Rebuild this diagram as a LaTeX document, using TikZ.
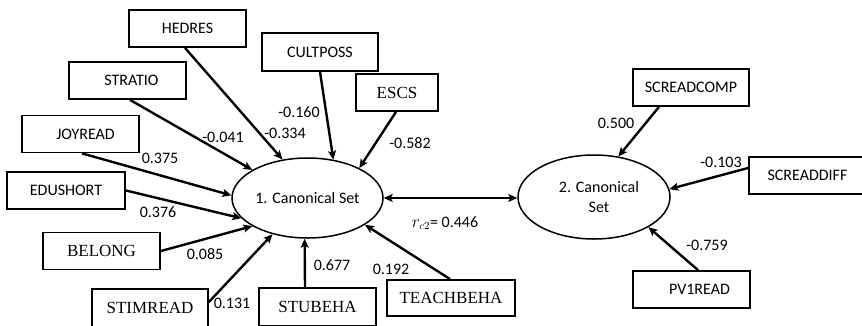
\documentclass[tikz,border=0pt]{standalone}
\usepackage{fontspec}
\newfontfamily\sansf{Carlito}
\newfontfamily\serf{Liberation Serif}
\usetikzlibrary{arrows.meta,shapes.geometric}
\begin{document}
\begin{tikzpicture}[x=1pt,y=-1pt,
 box/.style={draw, line width=1.8pt, inner sep=0pt, minimum height=37pt, font=\sansf\fontsize{16}{18}\selectfont},
 sbox/.style={box, font=\serf\fontsize{17}{19}\selectfont},
 ell/.style={draw, ellipse, line width=1.5pt, inner sep=0pt, align=center, font=\sansf\fontsize{16}{20}\selectfont},
 tip/.style={},
 arr/.style={line width=2.4pt, -{Stealth[length=9pt,width=8pt,inset=2pt]}},
 darr/.style={line width=2.4pt, {Stealth[length=9pt,width=8pt,inset=2pt]}-{Stealth[length=9pt,width=8pt,inset=2pt]}},
 lab/.style={font=\sansf\fontsize{16}{18}\selectfont, inner sep=0pt}]
\useasboundingbox (0,0) rectangle (862,325);
% boxes
\node[box, minimum width=117pt] (hedres) at (187.5,28.5) {HEDRES};
\node[box, minimum width=117pt] (stratio) at (127.5,80.5) {\hspace*{8pt}STRATIO};
\node[box, minimum width=117pt] (joyread) at (80.5,134) {\hspace*{10pt}JOYREAD};
\node[box, minimum width=118pt] (edushort) at (66,190.5) {EDUSHORT};
\node[sbox, minimum width=117pt] (belong) at (101.5,251) {BELONG};
\node[sbox, minimum width=116pt, minimum height=38pt] (stimread) at (150,308) {STIMREAD};
\node[sbox, minimum width=117pt, minimum height=38pt] (stubeha) at (317.5,307) {STUBEHA};
\node[sbox, minimum width=128pt, minimum height=36pt] (teachbeha) at (451,298) {TEACHBEHA};
\node[box, minimum width=116pt, minimum height=38pt] (cultposs) at (320,52) {CULTPOSS};
\node[sbox, minimum width=82pt] (escs) at (397,92.5) {ESCS};
\node[box, minimum width=116pt] (screadcomp) at (691,87.5) {SCREADCOMP};
\node[box, minimum width=117pt] (screaddiff) at (807.5,175.5) {SCREADDIFF};
\node[box, minimum width=117pt] (pv1read) at (691.5,289.5) {\hspace*{16pt}PV1READ};
% ellipses
\node[ell, minimum width=151pt, minimum height=80pt] (e1) at (307.5,198) {1. Canonical Set};
\node[ell, minimum width=152pt, minimum height=84pt] (e2) at (594,197) {\hspace*{10pt}2. Canonical\\\hspace*{10pt}Set};
% arrows to set 1
\draw[arr] ([xshift=-2.5pt]hedres.south) -- (e1.123.9);
\draw[arr] ([xshift=2.5pt]stratio.south) -- (e1.153.2);
\draw[arr] ([xshift=1.5pt]joyread.south) -- (e1.178.5);
\draw[arr] (edushort.east) -- (e1.197);
\draw[arr] (belong.east) -- (e1.207.6);
\draw[arr] ([yshift=6pt]stimread.east) -- (e1.226.9);
\draw[arr] ([xshift=-12.5pt]stubeha.north) -- (e1.266.4);
\draw[arr] ([xshift=-1pt]teachbeha.north) -- (e1.335.6);
\draw[arr] (cultposs.south) -- (e1.56.8);
\draw[arr] ([xshift=-1pt]escs.south) -- (e1.30.6);
% arrows to set 2
\draw[arr] ([xshift=-32pt]screadcomp.south) -- (e2.59);
\draw[arr] ([yshift=7.5pt]screaddiff.west) -- (e2.6.6);
\draw[arr] ([xshift=6.5pt]pv1read.north) -- (e2.-29.5);
% correlation
\draw[darr] (e1.east) -- (e1.east -| e2.west);
% labels
\node[lab] (l1) at (223,137) {-0.041};
\node[lab] (l2) at (285,133) {-0.334};
\node[lab] (l3) at (299,112) {-0.160};
\node[lab] (l4) at (410,143) {-0.582};
\node[lab] (l5) at (160,158) {0.375};
\node[lab] (l6) at (158,212) {0.376};
\node[lab] (l7) at (205,254) {0.085};
\node[lab] (l8) at (232,303) {0.131};
\node[lab] (l9) at (332,265) {0.677};
\node[lab] (l10) at (391,269) {0.192};
\node[lab] (l11) at (616,123) {0.500};
\node[lab] (l12) at (721,162) {-0.103};
\node[lab] (l13) at (707,245) {-0.759};
\node[lab] (rc) at (445,223) {$r_{c2}$= 0.446};
\end{tikzpicture}
\end{document}
